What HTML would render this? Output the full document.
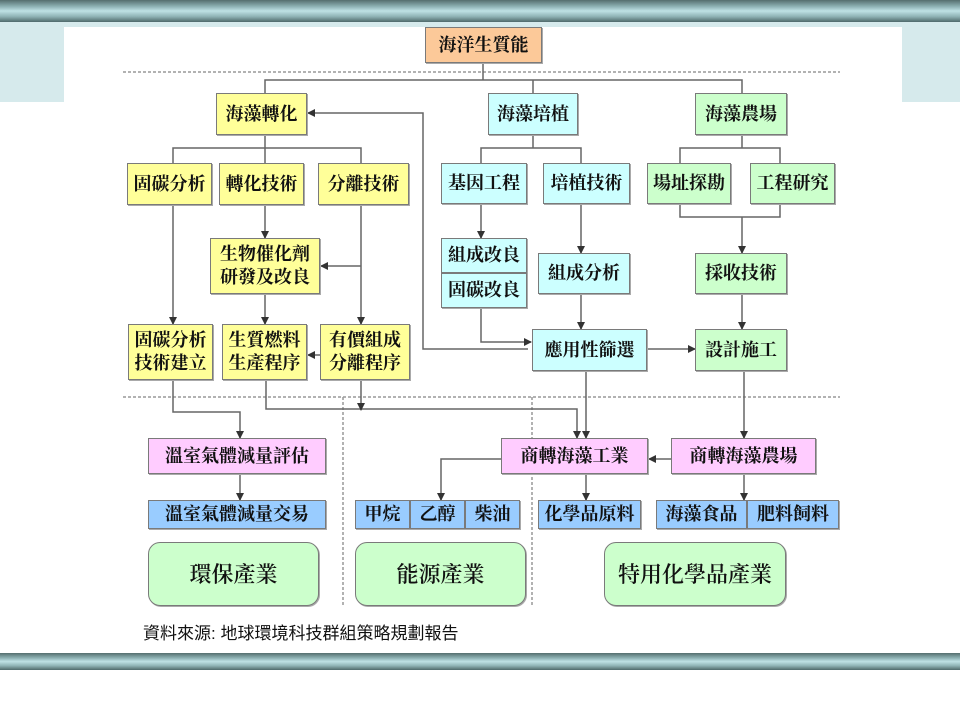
<!DOCTYPE html>
<html><head><meta charset="utf-8"><style>
*{margin:0;padding:0;box-sizing:border-box}
body{width:960px;height:720px;background:#fff;position:relative;overflow:hidden;font-family:"Liberation Serif","Noto Serif CJK SC","Noto Sans CJK TC",serif}
.bar{position:absolute;left:0;width:960px;background:linear-gradient(#546e6e,#8fb3b5 30%,#bfe2e5 50%,#8fb3b5 75%,#4f6a6b)}
.b{position:absolute;border:1.5px solid #7a7a7a;display:flex;align-items:center;justify-content:center;font-size:18px;font-weight:700;color:#111;text-align:center;line-height:23px;box-shadow:1px 1px 0 #aaa;white-space:nowrap}
.y{background:#ffff99}.c{background:#ccffff}.g{background:#ccffcc}.p{background:#ffccff}.bl{background:#99ccff}.o{background:#fcc999}
.r{border-radius:12px;font-size:22px;font-weight:600}
svg{position:absolute;left:0;top:0}
</style></head><body>
<div class="bar" style="top:0;height:22px"></div>
<div style="position:absolute;left:0;top:22px;width:960px;height:80px;background:#d6eaec"></div>
<div style="position:absolute;left:64px;top:27px;width:838px;height:626px;background:#fff"></div>
<div class="bar" style="top:653px;height:17px"></div>

<svg width="960" height="720">
<defs><marker id="a" markerWidth="8" markerHeight="8" refX="7" refY="4" orient="auto" markerUnits="userSpaceOnUse"><path d="M0,0L8,4L0,8z" fill="#333"/></marker></defs>
<g stroke="#999" stroke-width="1.5" stroke-dasharray="3,2" fill="none">
<line x1="123" y1="72" x2="840" y2="72"/>
<line x1="123" y1="397" x2="840" y2="397"/>
<line x1="343" y1="397" x2="343" y2="606"/>
<line x1="532" y1="397" x2="532" y2="606"/>
</g>
<g stroke="#666" stroke-width="1.5" fill="none">
<line x1="483" y1="63" x2="483" y2="80"/>
<polyline points="265,93 265,80 742,80 742,93"/>
<line x1="533" y1="80" x2="533" y2="93"/>
<polyline points="173,163 173,148 361,148 361,163"/>
<line x1="265" y1="135" x2="265" y2="163"/>
<line x1="265" y1="205" x2="265" y2="238" marker-end="url(#a)"/>
<line x1="173" y1="205" x2="173" y2="324" marker-end="url(#a)"/>
<line x1="361" y1="205" x2="361" y2="324" marker-end="url(#a)"/>
<line x1="361" y1="266" x2="321" y2="266" marker-end="url(#a)"/>
<line x1="265" y1="294" x2="265" y2="324" marker-end="url(#a)"/>
<line x1="320" y1="355" x2="308" y2="355" marker-end="url(#a)"/>
<polyline points="528,349 423,349 423,113 308,113" marker-end="url(#a)"/>
<polyline points="481,163 481,148 581,148 581,163"/>
<line x1="533" y1="135" x2="533" y2="148"/>
<line x1="481" y1="204" x2="481" y2="238" marker-end="url(#a)"/>
<line x1="581" y1="204" x2="581" y2="253" marker-end="url(#a)"/>
<polyline points="481,308 481,342 531,342" marker-end="url(#a)"/>
<line x1="581" y1="293" x2="581" y2="329" marker-end="url(#a)"/>
<polyline points="680,163 680,148 780,148 780,163"/>
<line x1="742" y1="135" x2="742" y2="148"/>
<polyline points="680,204 680,217 780,217 780,204"/>
<line x1="742" y1="217" x2="742" y2="253" marker-end="url(#a)"/>
<line x1="742" y1="293" x2="742" y2="329" marker-end="url(#a)"/>
<line x1="647" y1="349" x2="695" y2="349" marker-end="url(#a)"/>
<polyline points="173,380 173,412 240,412 240,438" marker-end="url(#a)"/>
<polyline points="266,380 266,409 577,409 577,438" marker-end="url(#a)"/>
<line x1="361" y1="380" x2="361" y2="410" marker-end="url(#a)"/>
<line x1="586" y1="371" x2="586" y2="438" marker-end="url(#a)"/>
<line x1="744" y1="371" x2="744" y2="438" marker-end="url(#a)"/>
<line x1="671" y1="459" x2="649" y2="459" marker-end="url(#a)"/>
<polyline points="501,459 441,459 441,500" marker-end="url(#a)"/>
<line x1="586" y1="474" x2="586" y2="500" marker-end="url(#a)"/>
<line x1="744" y1="474" x2="744" y2="500" marker-end="url(#a)"/>
<line x1="240" y1="474" x2="240" y2="500" marker-end="url(#a)"/>
</g>
</svg>

<div class="b o" style="left:425px;top:27px;width:117px;height:36px">海洋生質能</div>
<div class="b y" style="left:216px;top:93px;width:91px;height:42px">海藻轉化</div>
<div class="b c" style="left:488px;top:93px;width:90px;height:42px">海藻培植</div>
<div class="b g" style="left:695px;top:93px;width:92px;height:42px">海藻農場</div>

<div class="b y" style="left:127px;top:163px;width:85px;height:42px">固碳分析</div>
<div class="b y" style="left:219px;top:163px;width:85px;height:42px">轉化技術</div>
<div class="b y" style="left:318px;top:163px;width:91px;height:42px">分離技術</div>
<div class="b c" style="left:441px;top:163px;width:86px;height:41px">基因工程</div>
<div class="b c" style="left:543px;top:163px;width:87px;height:41px">培植技術</div>
<div class="b g" style="left:647px;top:163px;width:84px;height:41px">場址探勘</div>
<div class="b g" style="left:750px;top:163px;width:85px;height:41px">工程研究</div>

<div class="b y" style="left:210px;top:238px;width:110px;height:56px">生物催化劑<br>研發及改良</div>
<div class="b c" style="left:441px;top:238px;width:86px;height:35px">組成改良</div>
<div class="b c" style="left:441px;top:273px;width:86px;height:35px">固碳改良</div>
<div class="b c" style="left:538px;top:253px;width:92px;height:41px">組成分析</div>
<div class="b g" style="left:695px;top:253px;width:92px;height:41px">採收技術</div>

<div class="b y" style="left:128px;top:324px;width:85px;height:56px">固碳分析<br>技術建立</div>
<div class="b y" style="left:222px;top:324px;width:85px;height:56px">生質燃料<br>生產程序</div>
<div class="b y" style="left:320px;top:324px;width:90px;height:56px">有價組成<br>分離程序</div>
<div class="b c" style="left:532px;top:329px;width:115px;height:42px">應用性篩選</div>
<div class="b g" style="left:695px;top:329px;width:92px;height:42px">設計施工</div>

<div class="b p" style="left:148px;top:438px;width:178px;height:36px">溫室氣體減量評估</div>
<div class="b p" style="left:501px;top:438px;width:147px;height:36px">商轉海藻工業</div>
<div class="b p" style="left:671px;top:438px;width:145px;height:36px">商轉海藻農場</div>

<div class="b bl" style="left:148px;top:500px;width:178px;height:29px">溫室氣體減量交易</div>
<div class="b bl" style="left:355px;top:500px;width:55px;height:29px">甲烷</div>
<div class="b bl" style="left:410px;top:500px;width:55px;height:29px">乙醇</div>
<div class="b bl" style="left:465px;top:500px;width:55px;height:29px">柴油</div>
<div class="b bl" style="left:538px;top:500px;width:103px;height:29px">化學品原料</div>
<div class="b bl" style="left:656px;top:500px;width:91px;height:29px">海藻食品</div>
<div class="b bl" style="left:747px;top:500px;width:92px;height:29px">肥料飼料</div>

<div class="b g r" style="left:148px;top:542px;width:171px;height:64px">環保產業</div>
<div class="b g r" style="left:355px;top:542px;width:171px;height:64px">能源產業</div>
<div class="b g r" style="left:604px;top:542px;width:182px;height:64px">特用化學品產業</div>

<div style="position:absolute;left:143px;top:619px;font-size:17px;font-family:'Liberation Sans','Noto Sans CJK TC',sans-serif;color:#111;white-space:nowrap">資料來源: 地球環境科技群組策略規劃報告</div>
</body></html>
